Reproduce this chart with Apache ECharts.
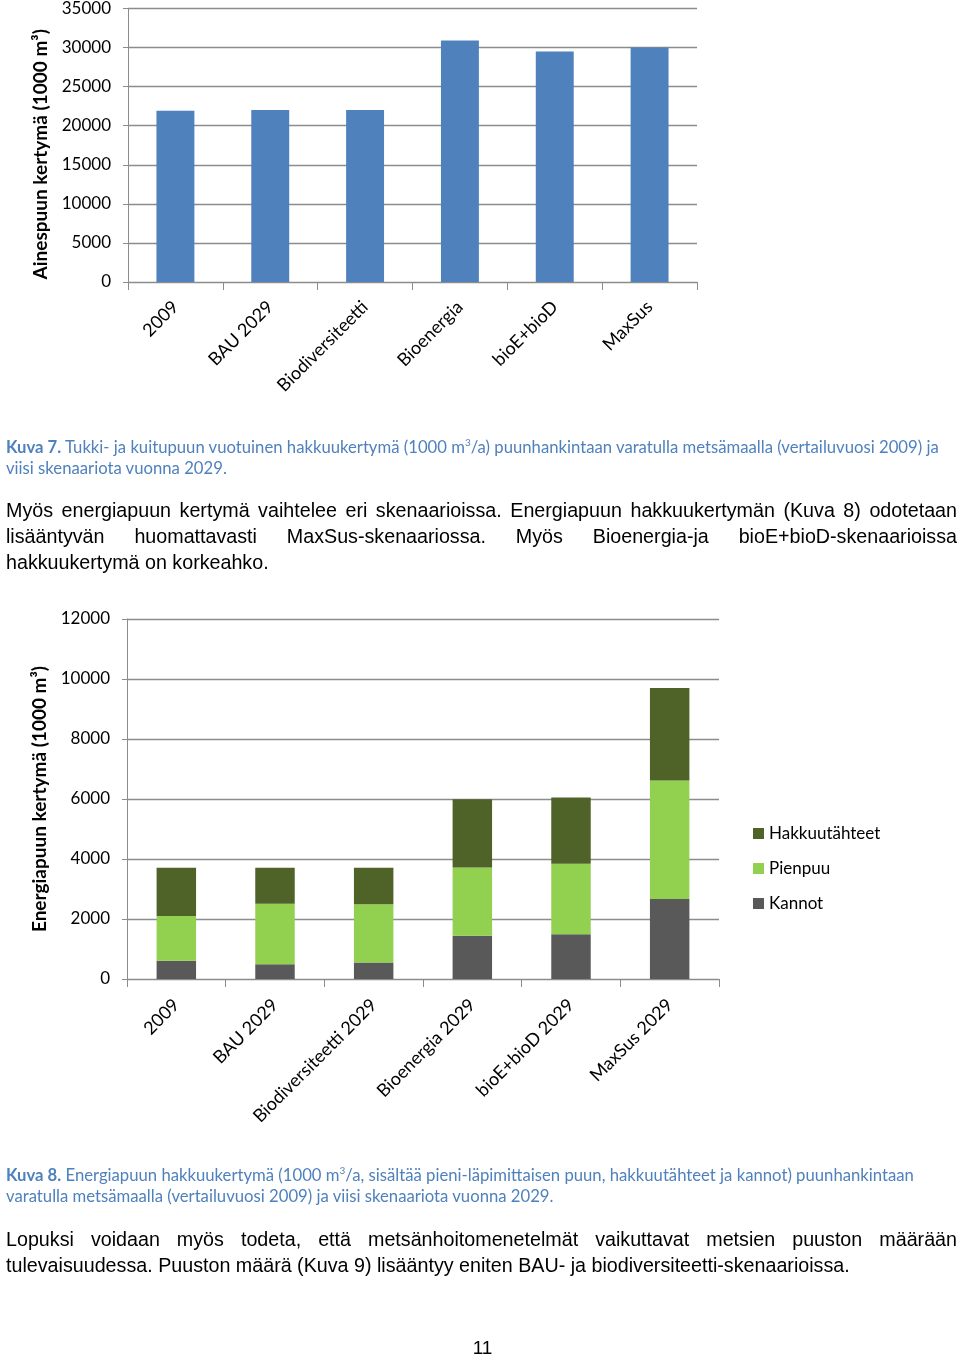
<!DOCTYPE html>
<html><head><meta charset="utf-8">
<script src="https://cdn.jsdelivr.net/npm/echarts@6/dist/echarts.min.js"></script>
<style>
html,body{margin:0;padding:0;background:#fff;}
#wrap{position:relative;width:960px;height:1358px;overflow:hidden;}
#chart{position:absolute;left:0;top:0;width:960px;height:1358px;}
.cap{position:absolute;left:6px;font-family:Lato,sans-serif;font-size:16.7px;color:#4F81BD;white-space:nowrap;line-height:21px;}
.cap b{font-weight:bold;}
.cap sup{font-size:10px;line-height:0;}
.body{position:absolute;left:6px;width:951px;font-family:"Liberation Sans",Arial,sans-serif;font-size:19.7px;color:#000;line-height:26px;}
.j2{text-align:justify;text-align-last:justify;white-space:nowrap;}
.pn{position:absolute;left:0;width:965px;text-align:center;top:1337px;font-family:"Liberation Sans",Arial,sans-serif;font-size:19px;}
</style></head>
<body><div id="wrap">
<div id="chart"></div>
<div class="cap" style="top:437px"><b>Kuva 7.</b> Tukki- ja kuitupuun vuotuinen hakkuukertymä (1000 m<sup>3</sup>/a) puunhankintaan varatulla metsämaalla (vertailuvuosi 2009) ja</div>
<div class="cap" style="top:458px">viisi skenaariota vuonna 2029.</div>
<div class="body" style="top:497px">
<div class="j2">Myös energiapuun kertymä vaihtelee eri skenaarioissa. Energiapuun hakkuukertymän (Kuva 8) odotetaan</div>
<div class="j2">lisääntyvän huomattavasti MaxSus-skenaariossa. Myös Bioenergia-ja bioE+bioD-skenaarioissa</div>
<div>hakkuukertymä on korkeahko.</div>
</div>
<div class="cap" style="top:1165px"><b>Kuva 8.</b> Energiapuun hakkuukertymä (1000 m<sup>3</sup>/a, sisältää pieni-läpimittaisen puun, hakkuutähteet ja kannot) puunhankintaan</div>
<div class="cap" style="top:1186px">varatulla metsämaalla (vertailuvuosi 2009) ja viisi skenaariota vuonna 2029.</div>
<div class="body" style="top:1226px">
<div class="j2">Lopuksi voidaan myös todeta, että metsänhoitomenetelmät vaikuttavat metsien puuston määrään</div>
<div>tulevaisuudessa. Puuston määrä (Kuva 9) lisääntyy eniten BAU- ja biodiversiteetti-skenaarioissa.</div>
</div>
<div class="pn">11</div>
</div>
<script>
// Chart 1 data
const cats1 = ['2009', 'BAU 2029', 'Biodiversiteetti', 'Bioenergia', 'bioE+bioD', 'MaxSus'];
const ainespuu = [21900, 22000, 22000, 30900, 29500, 30000];
// Chart 2 data
const cats2 = ['2009', 'BAU 2029', 'Biodiversiteetti 2029', 'Bioenergia 2029', 'bioE+bioD 2029', 'MaxSus 2029'];
const kannot = [610, 490, 550, 1440, 1490, 2670];
const pienpuu = [1490, 2020, 1940, 2280, 2350, 3950];
const hakkuutahteet = [1610, 1200, 1220, 2270, 2210, 3080];
const seriesNames = ['Kannot', 'Pienpuu', 'Hakkuutähteet'];

const FONT = 'Lato';
const grey = '#8c8c8c';
const chart = echarts.init(document.getElementById('chart'), null, {renderer:'canvas'});

function yAxis(gi, max, interval, name, gap, pad) {
  return {
    type:'value', gridIndex:gi, min:0, max:max, interval:interval,
    name:name, nameLocation:'middle', nameGap:gap,
    nameTextStyle:{fontFamily:FONT, fontSize:19, fontWeight:'bold', color:'#000', padding:pad},
    axisLine:{show:true, lineStyle:{color:grey, width:1}},
    axisTick:{show:true, length:5, lineStyle:{color:grey}},
    axisLabel:{fontFamily:FONT, fontSize:17, color:'#000', margin:17, formatter:function(v){return String(v);}},
    splitLine:{show:true, lineStyle:{color:grey, width:1.3}}
  };
}
function xAxis(gi, data, margin) {
  return {
    type:'category', gridIndex:gi, data:data,
    axisLine:{show:true, lineStyle:{color:grey, width:1}},
    axisTick:{show:true, length:8, lineStyle:{color:grey}},
    axisLabel:{fontFamily:FONT, fontSize:18, color:'#000', rotate:45, margin:margin, interval:0}
  };
}

chart.setOption({
  animation:false,
  grid:[
    {left:128, top:7, width:569, height:275},
    {left:127, top:619, width:592, height:360}
  ],
  xAxis:[xAxis(0, cats1, 22), xAxis(1, cats2, 23)],
  yAxis:[yAxis(0, 35000, 5000, 'Ainespuun kertymä (1000 m³)', 77, [0,18,0,0]), yAxis(1, 12000, 2000, 'Energiapuun kertymä (1000 m³)', 74, [0,0,0,0])],
  legend:{
    orient:'vertical', left:748, top:820, itemWidth:11, itemHeight:11, itemGap:18,
    data:['Hakkuutähteet', 'Pienpuu', 'Kannot'],
    icon:'rect',
    textStyle:{fontFamily:FONT, fontSize:17, color:'#000'}
  },
  series:[
    {type:'bar', xAxisIndex:0, yAxisIndex:0, data:ainespuu, barCategoryGap:'60%', itemStyle:{color:'#4F81BD'}},
    {type:'bar', name:seriesNames[0], xAxisIndex:1, yAxisIndex:1, stack:'e', data:kannot, barCategoryGap:'60%', itemStyle:{color:'#595959'}},
    {type:'bar', name:seriesNames[1], xAxisIndex:1, yAxisIndex:1, stack:'e', data:pienpuu, barCategoryGap:'60%', itemStyle:{color:'#92D050'}},
    {type:'bar', name:seriesNames[2], xAxisIndex:1, yAxisIndex:1, stack:'e', data:hakkuutahteet, barCategoryGap:'60%', itemStyle:{color:'#4F6228'}}
  ]
});
</script>
</body></html>
